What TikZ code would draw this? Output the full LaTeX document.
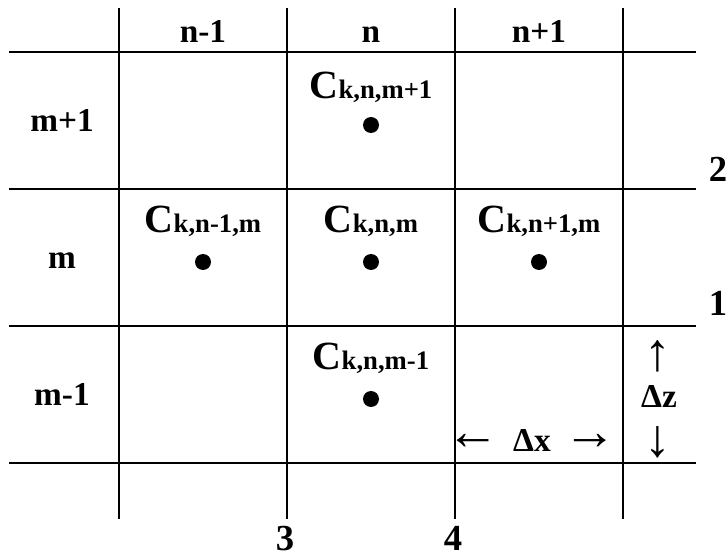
\documentclass[tikz,border=0pt]{standalone}
\usepackage{fontspec}
\setmainfont{Liberation Serif}
\newcommand\cellC[1]{{\fontsize{30}{32}\selectfont C}{\fontsize{20}{22}\selectfont #1}}
\begin{document}
\begin{tikzpicture}[x=0.75pt,y=-0.75pt,
 gridline/.style={line width=1.7pt},
 lab/.style={font=\fontsize{25}{28}\selectfont\bfseries, anchor=base, inner sep=0pt},
 num/.style={font=\fontsize{27.5}{30}\selectfont\bfseries, anchor=base, inner sep=0pt},
 clab/.style={font=\bfseries, anchor=base, inner sep=0pt},
 dotmark/.style={circle, fill=black, inner sep=0pt, minimum size=12pt},
 arr/.style={font=\fontsize{40}{44}\selectfont, inner sep=0pt}]
\useasboundingbox (0,0) rectangle (726,556);
\foreach \y in {52,189,326,463} \draw[gridline] (9,\y) -- (696,\y);
\foreach \x in {119,287,455,623} \draw[gridline] (\x,8) -- (\x,519);
% headers
\node[lab] (hn1) at (203,43) {n-1};
\node[lab] (hn) at (371,43) {n};
\node[lab] (hn2) at (539,43) {n+1};
% rows
\node[lab] (rm2) at (62,132) {m+1};
\node[lab] (rm) at (62,269) {m};
\node[lab] (rm1) at (62,406) {m-1};
% cells
\node[clab] (c1) at (371,99) {\cellC{k,n,m+1}};
\node[dotmark] (d1) at (371,125) {};
\node[clab] (c2) at (203,233) {\cellC{k,n-1,m}};
\node[dotmark] (d2) at (203,262) {};
\node[clab] (c3) at (371,233) {\cellC{k,n,m}};
\node[dotmark] (d3) at (371,262) {};
\node[clab] (c4) at (539,233) {\cellC{k,n+1,m}};
\node[dotmark] (d4) at (539,262) {};
\node[clab] (c5) at (371,370) {\cellC{k,n,m-1}};
\node[dotmark] (d5) at (371,399) {};
% delta x
\node[arr] (la) at (473,442) {←};
\node[lab] (dx) at (532,451) {Δx};
\node[arr] (ra) at (590,442) {→};
% delta z
\node[arr] (ua) at (658,356) {↑};
\node[lab] (dz) at (659,407) {Δz};
\node[arr] (da) at (658,442) {↓};
% numbers
\node[num] (n2) at (718,182) {2};
\node[num] (n1) at (718,316) {1};
\node[num] (n3) at (285,551) {3};
\node[num] (n4) at (453,551) {4};
\end{tikzpicture}
\end{document}
